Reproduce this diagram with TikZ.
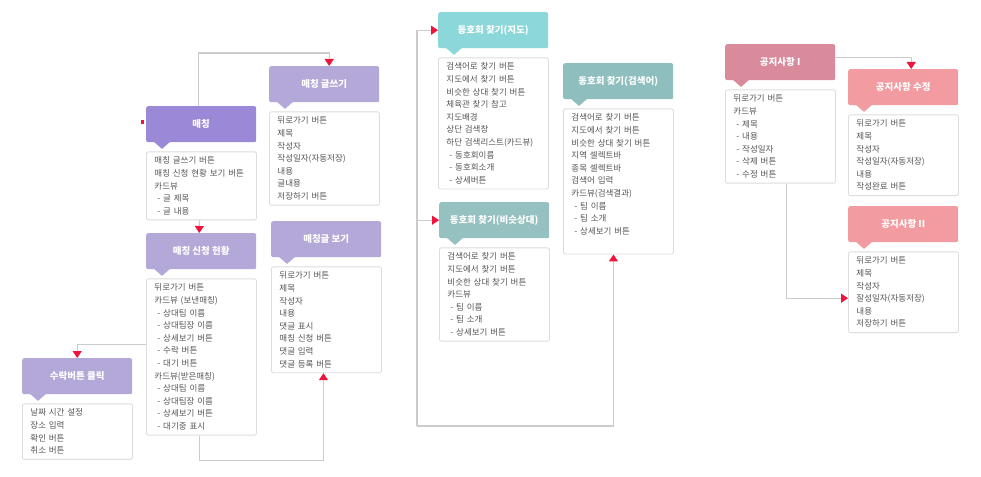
\documentclass[tikz,border=0pt]{standalone}
\usepackage{fontspec}
\setmainfont{Noto Sans CJK KR}
\usetikzlibrary{arrows.meta,positioning}
\definecolor{matchviolet}{RGB}{155,137,216}
\definecolor{matchlilac}{RGB}{180,168,216}
\definecolor{clubcyan}{RGB}{139,215,218}
\definecolor{clubteal}{RGB}{143,190,190}
\definecolor{clubsage}{RGB}{149,193,192}
\definecolor{noticerose}{RGB}{217,139,156}
\definecolor{noticepink}{RGB}{242,156,161}
\definecolor{bodyline}{RGB}{221,221,221}
\definecolor{bodytext}{RGB}{85,85,85}
\definecolor{linkgray}{RGB}{204,204,204}
\definecolor{arrowred}{RGB}{240,20,60}
\newcommand{\dashitem}{\hspace*{3pt}- }

\begin{document}
\begin{tikzpicture}[
    x=1pt, y=-1pt,
    head/.style={
      rectangle, rounded corners=2pt, fill=#1, text=white,
      minimum width=110pt, minimum height=36pt, inner sep=0pt,
      anchor=north west, font=\fontsize{9.5}{11}\selectfont\bfseries
    },
    body/.style={
      rectangle, rounded corners=2pt, draw=bodyline, line width=0.9pt,
      fill=white, text=bodytext, text width=94pt, inner xsep=8pt,
      inner ysep=5pt, align=left, font=\fontsize{8.5}{12.6}\selectfont,
      below=9pt of #1.south west, anchor=north west
    },
    link/.style={draw=linkgray, line width=1.2pt,
      -{Triangle[width=9pt,length=7pt,color=arrowred]}}
  ]
    \path[fill=white, use as bounding box] (0,0) rectangle (981,476);

    % matching
    \node[head=matchviolet] (match) at (146,106) {매칭};
    \node[body=match] (matchBody) {매칭 글쓰기 버튼\\매칭 신청 현황 보기 버튼\\카드뷰\\\dashitem 글 제목\\\dashitem 글 내용};
    \node[head=matchlilac] (write) at (269,66) {매칭 글쓰기};
    \node[body=write] (writeBody) {뒤로가기 버튼\\제목\\작성자\\작성일자(자동저장)\\내용\\글내용\\저장하기 버튼};
    \node[head=matchlilac] (apply) at (146,233) {매칭 신청 현황};
    \node[body=apply] (applyBody) {뒤로가기 버튼\\카드뷰 (보낸매칭)\\\dashitem 상대팀 이름\\\dashitem 상대팀장 이름\\\dashitem 상세보기 버튼\\\dashitem 수락 버튼\\\dashitem 대기 버튼\\카드뷰(받은매칭)\\\dashitem 상대팀 이름\\\dashitem 상대팀장 이름\\\dashitem 상세보기 버튼\\\dashitem 대기중 표시};
    \node[head=matchlilac] (view) at (271,221) {매칭글 보기};
    \node[body=view] (viewBody) {뒤로가기 버튼\\제목\\작성자\\내용\\댓글 표시\\매칭 신청 버튼\\댓글 입력\\댓글 등록 버튼};
    \node[head=matchlilac] (accept) at (22,358) {수락버튼 클릭};
    \node[body=accept] (acceptBody) {날짜 시간 설정\\장소 입력\\확인 버튼\\취소 버튼};

    % club search
    \node[head=clubcyan] (map) at (438,12) {동호회 찾기(지도)};
    \node[body=map] (mapBody) {검색어로 찾기 버튼\\지도에서 찾기 버튼\\비슷한 상대 찾기 버튼\\체육관 찾기 참고\\지도배경\\상단 검색창\\하단 검색리스트(카드뷰)\\\dashitem 동호회이름\\\dashitem 동호회소개\\\dashitem 상세버튼};
    \node[head=clubteal] (keyword) at (563,63) {동호회 찾기(검색어)};
    \node[body=keyword] (keywordBody) {검색어로 찾기 버튼\\지도에서 찾기 버튼\\비슷한 상대 찾기 버튼\\지역 셀렉트바\\종목 셀렉트바\\검색어 입력\\카드뷰(검색결과)\\\dashitem 팀 이름\\\dashitem 팀 소개\\\dashitem 상세보기 버튼\par\vspace*{14pt}};
    \node[head=clubsage] (similar) at (439,202) {동호회 찾기(비슷상대)};
    \node[body=similar] (similarBody) {검색어로 찾기 버튼\\지도에서 찾기 버튼\\비슷한 상대 찾기 버튼\\카드뷰\\\dashitem 팀 이름\\\dashitem 팀 소개\\\dashitem 상세보기 버튼};

    % notices
    \node[head=noticerose] (notice) at (725,44) {공지사항 I};
    \node[body=notice] (noticeBody) {뒤로가기 버튼\\카드뷰\\\dashitem 제목\\\dashitem 내용\\\dashitem 작성일자\\\dashitem 삭제 버튼\\\dashitem 수정 버튼};
    \node[head=noticepink] (edit) at (848,69) {공지사항 수정};
    \node[body=edit] (editBody) {뒤로가기 버튼\\제목\\작성자\\작성일자(자동저장)\\내용\\작성완료 버튼};
    \node[head=noticepink] (noticeTwo) at (848,206) {공지사항 II};
    \node[body=noticeTwo] (noticeTwoBody) {뒤로가기 버튼\\제목\\작성자\\잘성일자(자동저장)\\내용\\저장하기 버튼};

    % pointers under the headers
    \foreach \n/\c in {match/matchviolet, write/matchlilac, apply/matchlilac,
        view/matchlilac, accept/matchlilac, map/clubcyan, keyword/clubteal,
        similar/clubsage, notice/noticerose, edit/noticepink, noticeTwo/noticepink}
      \fill[\c] ([xshift=8pt,yshift=0.5pt]\n.south west) -- ++(8,7) -- ++(8,-7) -- cycle;

    % links
    \fill[arrowred] (141,120) rectangle (143.5,124);
    \draw[link] ([xshift=-3pt]match.north) -- ++(0,-53) -| ([xshift=5pt]write.north);
    \draw[link] ([xshift=-2pt]matchBody.south) -- ([xshift=-2pt]apply.north);
    \draw[link] ([yshift=-66pt]applyBody.north west) -| (accept.north);
    \draw[link] ([xshift=-2pt]applyBody.south) -- ++(0,25) -| ([xshift=-3pt]viewBody.south);

    \coordinate (bus) at (417,426);
    \draw[link] (bus) |- (map.west);
    \draw[link] (bus |- similar.west) -- (similar.west);
    \draw[link] (bus) -| ([xshift=-5pt]keywordBody.south);

    \draw[link] ([yshift=5pt]notice.east) -| ([xshift=8pt]edit.north);
    \draw[link] ([xshift=6pt]noticeBody.south) |- ([yshift=-6pt]noticeTwoBody.west);
  \end{tikzpicture}
\end{document}
